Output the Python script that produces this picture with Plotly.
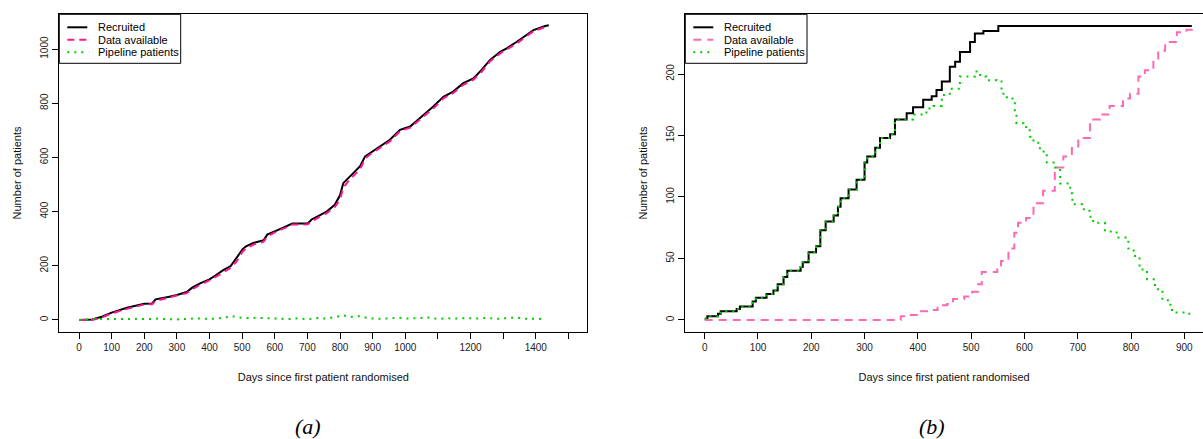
import plotly.graph_objects as go

# ---------------- Panel (a) data ----------------
days_a = [0, 40, 70, 100, 147, 200, 224, 235, 277, 300, 330, 347, 371, 400, 418, 442, 465,
          483, 501, 512, 536, 566, 577, 607, 654, 701, 713, 736, 760, 784, 800, 810, 831,
          861, 877, 892, 923, 953, 984, 1015, 1056, 1086, 1117, 1147, 1178, 1209, 1234,
          1260, 1291, 1311, 1342, 1393, 1429, 1440]
recruited_a = [0, 2, 12, 27, 45, 60, 61, 76, 86, 92, 103, 119, 135, 150, 164, 184, 199,
               230, 260, 272, 285, 294, 315, 331, 356, 356, 371, 385, 401, 425, 460, 505, 530,
               567, 604, 616, 640, 665, 702, 714, 757, 788, 824, 843, 874, 892, 923,
               960, 990, 1003, 1027, 1070, 1085, 1088]
available_a = [0, 0, 9, 24, 41, 57, 58, 70, 83, 89, 99, 113, 130, 146, 159, 176, 192,
               216, 252, 264, 279, 289, 308, 327, 352, 353, 364, 380, 395, 417, 445, 488, 521,
               555, 596, 611, 636, 659, 697, 710, 751, 781, 818, 838, 868, 887, 916,
               955, 984, 999, 1021, 1066, 1082, 1086]
pipe_days_a = [0, 30, 60, 90, 120, 150, 180, 210, 240, 270, 300, 330, 360, 390, 420, 450,
               470, 490, 520, 550, 580, 610, 640, 670, 700, 730, 760, 790, 810, 830, 860,
               890, 920, 950, 980, 1010, 1040, 1070, 1100, 1130, 1160, 1190, 1220, 1250,
               1280, 1310, 1340, 1370, 1400, 1430]
pipeline_a = [0, 2, 4, 3, 4, 5, 4, 3, 5, 3, 2, 4, 6, 4, 5, 10,
              14, 9, 7, 8, 6, 4, 3, 6, 2, 7, 5, 12, 17, 11, 14,
              6, 4, 6, 8, 5, 7, 9, 4, 6, 5, 7, 5, 8,
              4, 6, 9, 4, 5, 2]
xticks_a = list(range(0, 1600, 100))
xticklabels_a = ["0", "100", "200", "300", "400", "500", "600", "700", "800", "900",
                 "1000", "", "1200", "", "1400", ""]
yticks_a = [0, 200, 400, 600, 800, 1000]

# ---------------- Panel (b) data ----------------
days_b = [0, 5, 25, 30, 60, 66, 90, 96, 116, 129, 137, 148, 155, 180, 184, 195, 209, 217,
          227, 242, 250, 255, 270, 285, 300, 305, 320, 329, 348, 357, 379, 391, 410, 426,
          435, 445, 460, 470, 479, 498, 507, 523, 551, 914]
recruited_b = [1, 3, 5, 7, 9, 11, 15, 18, 21, 24, 29, 35, 40, 43, 47, 55, 60, 73,
               80, 85, 92, 99, 106, 114, 128, 133, 140, 148, 151, 163, 168, 173, 179, 182,
               187, 194, 206, 210, 218, 226, 233, 235, 239, 239]
pipe_days_b = [0, 5, 25, 30, 60, 66, 90, 96, 116, 129, 137, 148, 155, 180, 184, 195, 209,
               217, 227, 242, 250, 255, 270, 285, 300, 305, 320, 329, 348, 357, 373, 391,
               416, 429, 445, 460, 479, 491, 507, 517, 529, 548, 557, 567, 582, 585, 598,
               610, 617, 629, 642, 657, 667, 686, 690, 708, 722, 729, 751, 773, 795, 805,
               816, 830, 845, 859, 874, 881, 902, 913]
pipeline_b = [1, 3, 5, 7, 9, 11, 15, 18, 21, 24, 29, 35, 40, 43, 47, 55, 60,
              73, 80, 85, 92, 99, 106, 114, 128, 133, 140, 148, 151, 163, 163, 167,
              172, 174, 183, 188, 198, 198, 202, 198, 195, 194, 184, 180, 169, 160, 157,
              149, 144, 137, 128, 124, 111, 103, 94, 90, 84, 79, 72, 67, 58, 52,
              41, 33, 25, 16, 8, 6, 5, 4]
avail_days_b = [0, 365, 368, 383, 404, 426, 437, 455, 466, 487, 502, 513, 520, 549, 556,
                570, 581, 588, 603, 617, 635, 657, 673, 689, 701, 723, 742, 760, 785, 798,
                814, 826, 842, 851, 864, 886, 904, 914]
available_b = [0, 0, 3, 4, 7, 8, 12, 13, 17, 19, 23, 29, 39, 41, 48,
               58, 71, 79, 83, 95, 105, 124, 133, 141, 148, 163, 167, 174, 180, 184,
               198, 203, 211, 219, 226, 234, 236, 239]
xticks_b = list(range(0, 1000, 100))
yticks_b = [0, 50, 100, 150, 200]

legend_labels = ["Recruited", "Data available", "Pipeline patients"]

# ---------------- Styling ----------------
W, H = 1203, 439
FONT = "Liberation Sans, Arial, sans-serif"
BLACK = "#000000"
GREEN = "#00CD00"
PINK_A = "#FF1493"
PINK_B = "#FF69B4"
DASH = "7px,5px"
DOT = "2px,5px"


def px_x(p):
    return p / W


def px_y(p):
    return 1 - p / H


fig = go.Figure()

# Panel (a)
fig.add_trace(go.Scatter(x=days_a, y=recruited_a, mode="lines", name=legend_labels[0],
                         line=dict(color=BLACK, width=2), xaxis="x", yaxis="y"))
fig.add_trace(go.Scatter(x=days_a, y=available_a, mode="lines", name=legend_labels[1],
                         line=dict(color=PINK_A, width=2, dash=DASH), xaxis="x", yaxis="y"))
fig.add_trace(go.Scatter(x=pipe_days_a, y=pipeline_a, mode="lines", name=legend_labels[2],
                         line=dict(color=GREEN, width=2, dash=DOT), xaxis="x", yaxis="y"))

# Panel (b)
fig.add_trace(go.Scatter(x=days_b, y=recruited_b, mode="lines", name=legend_labels[0],
                         line=dict(color=BLACK, width=2, shape="hv"), xaxis="x2", yaxis="y2"))
fig.add_trace(go.Scatter(x=avail_days_b, y=available_b, mode="lines", name=legend_labels[1],
                         line=dict(color=PINK_B, width=2, dash="8px,6px", shape="hv"),
                         xaxis="x2", yaxis="y2"))
fig.add_trace(go.Scatter(x=pipe_days_b, y=pipeline_b, mode="lines", name=legend_labels[2],
                         line=dict(color=GREEN, width=2, dash=DOT, shape="hv"),
                         xaxis="x2", yaxis="y2"))

tickfont = dict(family=FONT, size=10, color="#222222")
titlefont = dict(family=FONT, size=11, color="#111111")
ydom = [px_y(331.7), px_y(14.3)]

common_x = dict(showline=True, linecolor=BLACK, linewidth=1, mirror=True, ticks="outside",
                ticklen=6, tickcolor=BLACK, tickwidth=1, showgrid=False, zeroline=False,
                tickfont=tickfont, tickmode="array")
common_y = dict(showline=True, linecolor=BLACK, linewidth=1, ticks="outside", ticklen=6,
                tickcolor=BLACK, tickwidth=1, showgrid=False, zeroline=False,
                tickfont=tickfont, tickangle=-90, tickmode="array")

# ---- Hand-drawn R-style legends (box, line samples, labels) ----
shapes = []
annotations = []
legend_rows_y = [27.3, 39.7, 52.3]
for box_left, box_right, colors, dashes in [
    (59.3, 180.7, [BLACK, PINK_A, GREEN], ["solid", DASH, DOT]),
    (685.3, 807.0, [BLACK, PINK_B, GREEN], ["solid", "8px,6px", DOT]),
]:
    shapes.append(dict(type="rect", xref="paper", yref="paper",
                       x0=px_x(box_left), x1=px_x(box_right), y0=px_y(63.3), y1=px_y(14.3),
                       line=dict(color=BLACK, width=1), fillcolor="white", layer="above"))
    for label, ry, col, dsh in zip(legend_labels, legend_rows_y, colors, dashes):
        shapes.append(dict(type="line", xref="paper", yref="paper",
                           x0=px_x(box_left + 8), x1=px_x(box_left + 28),
                           y0=px_y(ry), y1=px_y(ry),
                           line=dict(color=col, width=2, dash=dsh), layer="above"))
        annotations.append(dict(text=label, x=px_x(box_left + 37), y=px_y(ry),
                                xref="paper", yref="paper", xanchor="left", yanchor="middle",
                                showarrow=False,
                                font=dict(family=FONT, size=11, color=BLACK)))

caption_font = dict(family="Liberation Serif, Times New Roman, serif", size=22, color=BLACK)
annotations.append(dict(text="<i>(a)</i>", x=px_x(308), y=px_y(426), xref="paper",
                        yref="paper", xanchor="center", yanchor="middle",
                        showarrow=False, font=caption_font))
annotations.append(dict(text="<i>(b)</i>", x=px_x(932), y=px_y(426), xref="paper",
                        yref="paper", xanchor="center", yanchor="middle",
                        showarrow=False, font=caption_font))

fig.update_layout(
    width=W, height=H, margin=dict(l=0, r=0, t=0, b=0),
    paper_bgcolor="white", plot_bgcolor="white", showlegend=False,
    xaxis=dict(common_x, domain=[px_x(59.3), px_x(587.3)], range=[-60.4, 1558],
               tickvals=xticks_a, ticktext=xticklabels_a, anchor="y",
               title=dict(text="Days since first patient randomised", font=titlefont, standoff=21)),
    yaxis=dict(common_y, domain=ydom, range=[-43.4, 1128.4], mirror=True, anchor="x",
               tickvals=yticks_a, ticktext=[str(v) for v in yticks_a],
               title=dict(text="Number of patients", font=titlefont, standoff=15)),
    xaxis2=dict(common_x, domain=[px_x(685.3), 1.0], range=[-36.4, 935.1],
                tickvals=xticks_b, ticktext=[str(v) for v in xticks_b], anchor="y2",
                title=dict(text="Days since first patient randomised", font=titlefont, standoff=21)),
    yaxis2=dict(common_y, domain=ydom, range=[-9.56, 248.56], mirror=False, anchor="x2",
                tickvals=yticks_b, ticktext=[str(v) for v in yticks_b],
                title=dict(text="Number of patients", font=titlefont, standoff=15)),
    shapes=shapes,
    annotations=annotations,
)

fig.write_html("out.html")
